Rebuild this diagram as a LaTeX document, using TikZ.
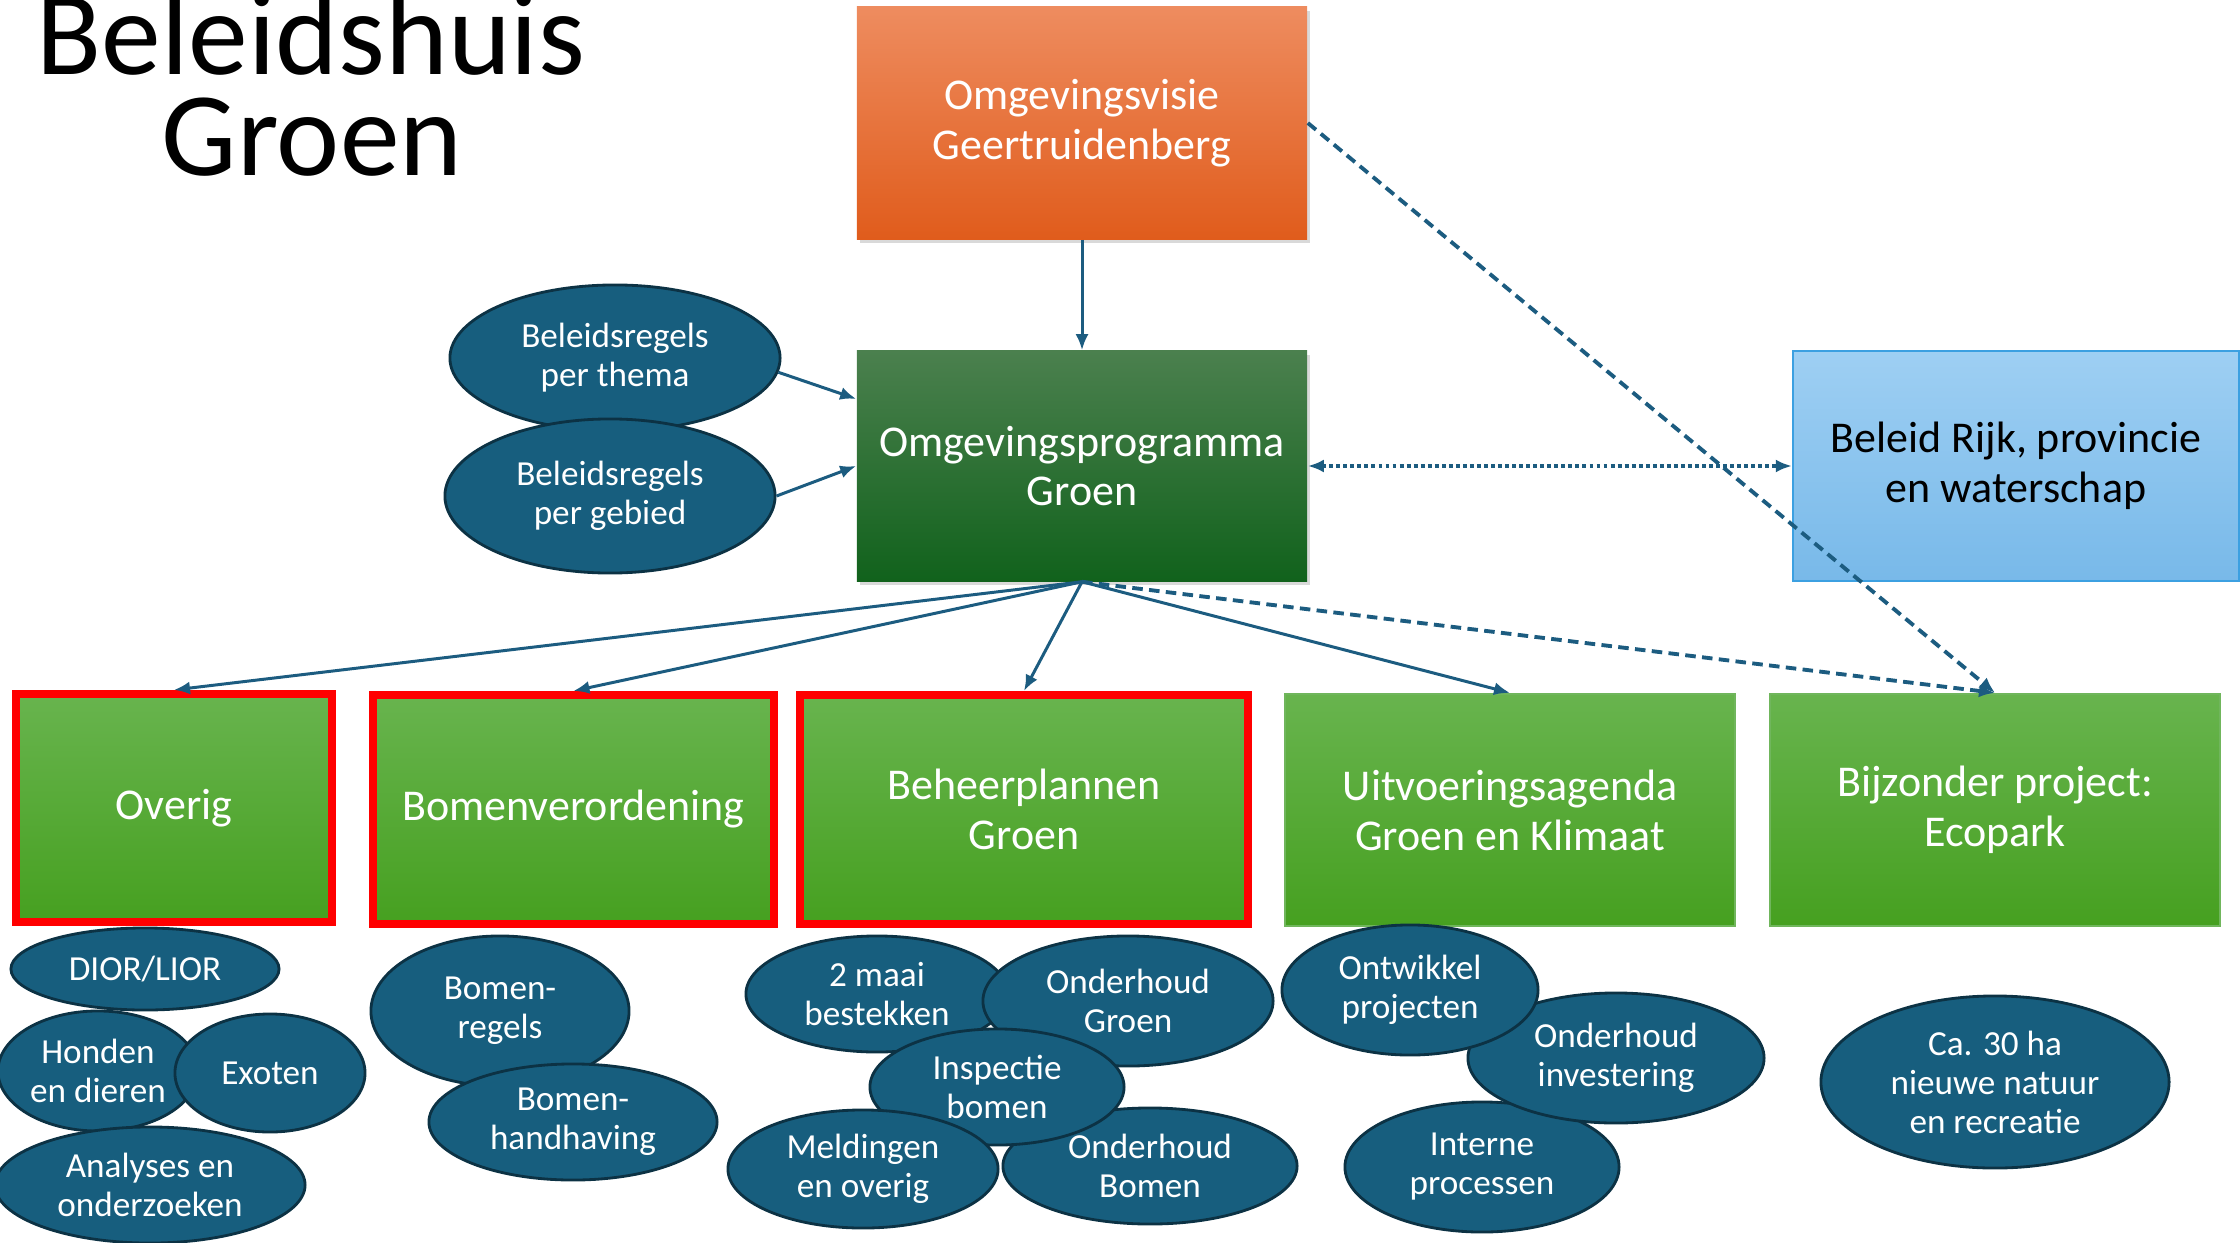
\documentclass[tikz,border=0pt]{standalone}
\usepackage{fontspec}
\setmainfont{Carlito}
\usetikzlibrary{shapes.geometric,arrows.meta,shadows,calc}

\definecolor{oranjeboven}{RGB}{238,140,95}
\definecolor{oranjeonder}{RGB}{224,92,28}
\definecolor{donkerboven}{RGB}{75,128,78}
\definecolor{donkeronder}{RGB}{17,98,28}
\definecolor{blauwboven}{RGB}{158,207,243}
\definecolor{blauwonder}{RGB}{120,185,233}
\definecolor{blauwrand}{RGB}{60,160,225}
\definecolor{groenboven}{RGB}{104,180,78}
\definecolor{groenonder}{RGB}{70,160,32}
\definecolor{groenrand}{RGB}{112,182,92}
\definecolor{bolblauw}{RGB}{23,94,126}
\definecolor{bolrand}{RGB}{12,50,68}
\definecolor{pijlblauw}{RGB}{28,92,128}

\begin{document}
\begin{tikzpicture}[x=0.01cm,y=-0.01cm,
  vak/.style={rectangle, inner sep=0pt, align=center, text=white, font=\fontsize{12.5}{14.2}\selectfont},
  groen/.style={vak, draw=groenrand, line width=0.6pt, top color=groenboven, bottom color=groenonder},
  rood/.style={groen, draw=red, line width=0.08cm},
  bol/.style={ellipse, draw=bolrand, line width=0.8pt, fill=bolblauw, text=white, inner sep=0pt, align=center, font=\fontsize{10}{11.1}\selectfont},
  pijl/.style={draw=pijlblauw, line width=0.85pt, -{Latex[length=1.6mm,width=1.3mm]}},
  schaduw/.style={drop shadow={opacity=.3,shadow xshift=.03cm,shadow yshift=-.04cm}}
]
\useasboundingbox (0,0) rectangle (2240,1243);

% titel
\node[font=\fontsize{34}{34}\selectfont, anchor=base] (titel1) at (311,75) {Beleidshuis};
\node[font=\fontsize{34}{34}\selectfont, anchor=base] (titel2) at (312,176) {Groen};

% bovenste lagen
\node[vak, schaduw, top color=oranjeboven, bottom color=oranjeonder, minimum width=4.5cm, minimum height=2.32cm] (visie) at (1082,123) {Omgevingsvisie\\Geertruidenberg};
\node[vak, schaduw, top color=donkerboven, bottom color=donkeronder, minimum width=4.5cm, minimum height=2.3cm] (prog) at (1082,466) {Omgevingsprogramma\\Groen};
\node[vak, text=black, draw=blauwrand, line width=0.6pt, top color=blauwboven, bottom color=blauwonder, minimum width=4.46cm, minimum height=2.3cm] (rijk) at (2016,466) {Beleid Rijk, provincie\\en waterschap};

% beleidsregels
\node[bol, minimum width=3.3cm, minimum height=1.46cm] (thema) at (615,358) {Beleidsregels\\per thema};
\node[bol, minimum width=3.3cm, minimum height=1.54cm] (gebied) at (610,496) {Beleidsregels\\per gebied};

% onderste laag
\node[rood, minimum width=3.16cm, minimum height=2.28cm] (overig) at (174,808) {Overig};
\node[rood, minimum width=4.01cm, minimum height=2.29cm] (bomen) at (573.5,809.5) {Bomenverordening};
\node[rood, minimum width=4.48cm, minimum height=2.29cm] (beheer) at (1024,809.5) {Beheerplannen\\Groen};
\node[groen, minimum width=4.49cm, minimum height=2.32cm] (uitv) at (1510,810) {Uitvoeringsagenda\\Groen en Klimaat};
\node[groen, minimum width=4.49cm, minimum height=2.32cm] (bijz) at (1995,810) {Bijzonder project:\\Ecopark};

% onderwerpen
\node[bol, minimum width=2.68cm, minimum height=0.82cm] (dior) at (145,969) {DIOR/LIOR};
\node[bol, minimum width=2cm, minimum height=1.2cm] (honden) at (98,1071) {Honden\\en dieren};
\node[bol, minimum width=1.9cm, minimum height=1.18cm] (exoten) at (270,1073) {Exoten};
\node[bol, minimum width=3.1cm, minimum height=1.16cm] (analyses) at (150,1185) {Analyses en\\onderzoeken};

\node[bol, minimum width=2.58cm, minimum height=1.5cm] (regels) at (500,1011) {Bomen-\\regels};
\node[bol, minimum width=2.88cm, minimum height=1.16cm] (handhaving) at (573,1122) {Bomen-\\handhaving};

\node[bol, minimum width=2.62cm, minimum height=1.16cm] (maai) at (877,994) {2 maai\\bestekken};
\node[bol, minimum width=2.9cm, minimum height=1.3cm] (ogroen) at (1128,1001) {Onderhoud\\Groen};
\node[bol, minimum width=2.94cm, minimum height=1.16cm] (obomen) at (1150,1166) {Onderhoud\\Bomen};
\node[bol, minimum width=2.54cm, minimum height=1.16cm] (inspectie) at (997,1087) {Inspectie\\bomen};
\node[bol, minimum width=2.7cm, minimum height=1.18cm] (meldingen) at (863,1169) {Meldingen\\en overig};

\node[bol, minimum width=2.74cm, minimum height=1.3cm] (interne) at (1482,1167) {Interne\\processen};
\node[bol, minimum width=2.96cm, minimum height=1.3cm] (investering) at (1616,1058) {Onderhoud\\investering};
\node[bol, minimum width=2.56cm, minimum height=1.3cm] (ontwikkel) at (1410,990) {Ontwikkel\\projecten};

\node[bol, minimum width=3.48cm, minimum height=1.72cm] (natuur) at (1995,1082) {Ca. 30 ha\\nieuwe natuur\\en recreatie};

% pijlen
\draw[pijl] (visie) -- (prog);
\draw[pijl] (thema.-5) -- ($(prog.north west)!.21!(prog.south west)$);
\draw[pijl] (gebied.east) -- (prog.west);
\draw[pijl] (prog.south) -- (overig.north);
\draw[pijl] (prog.south) -- (bomen.north);
\draw[pijl] (prog.south) -- (beheer.north);
\draw[pijl] (prog.south) -- (uitv.north);
\draw[pijl, line width=1.1pt, dash pattern=on 3pt off 1.8pt] (prog.south) -- (bijz.north);
\draw[pijl, line width=1.1pt, dash pattern=on 3pt off 1.8pt] (visie.east) -- (bijz.north);
\draw[pijl, {Latex[length=1.6mm,width=1.3mm]}-{Latex[length=1.6mm,width=1.3mm]}, line width=1.2pt, dash pattern=on 1.1pt off 0.9pt] (prog.east) -- (rijk.west);
\end{tikzpicture}
\end{document}
